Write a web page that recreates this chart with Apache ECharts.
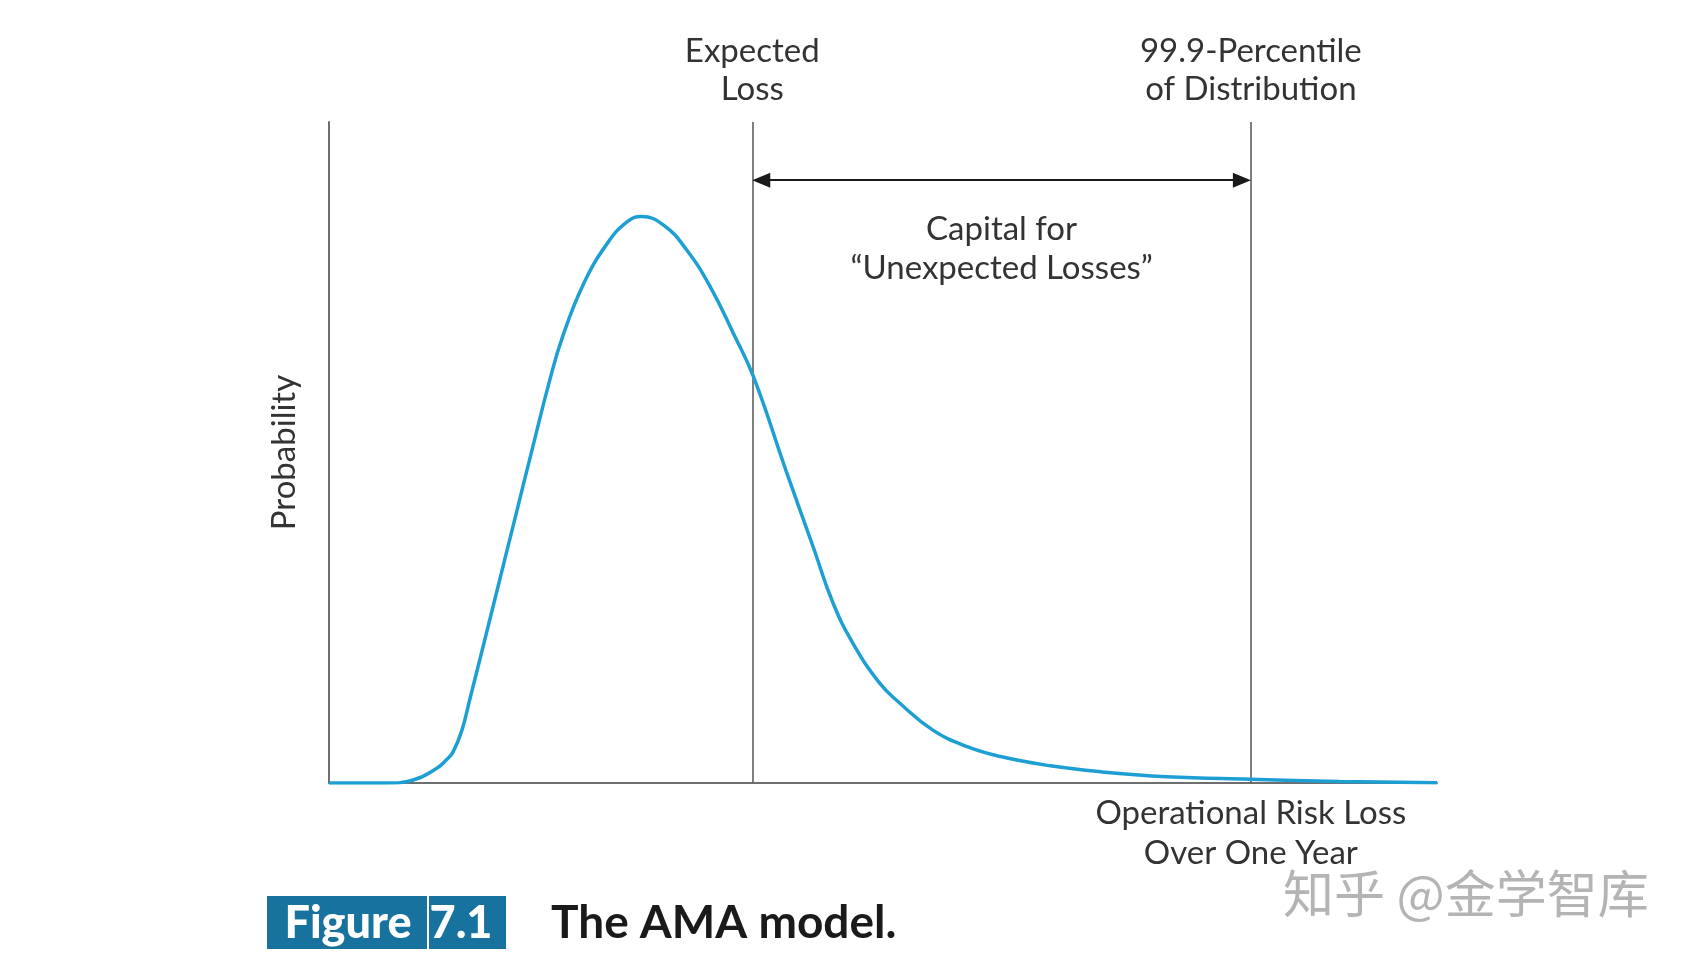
<!DOCTYPE html>
<html><head><meta charset="utf-8">
<script src="https://cdn.jsdelivr.net/npm/echarts@6/dist/echarts.min.js"></script>
<style>html,body{margin:0;padding:0;background:#fff}#c{width:1691px;height:963px}</style>
</head><body><div id="c"></div>
<script>
// Loss axis (0..100, arbitrary units) and probability density (0..100, arbitrary units)
const lossX = [0, 2.8, 5.2, 7.6, 9.7, 10.6, 11.2, 12.0, 12.7, 13.9, 15.4, 16.9, 18.4, 19.9, 21.1, 23.0, 25.1, 26.9, 28.2, 30.2, 32.3, 34.4, 36.5, 38.3, 41.3, 43.7, 45.5, 47.3, 49.7, 51.5, 54.5, 57.6, 60.6, 65.1, 69.6, 75.6, 83.1, 91.2, 100];
const probY = [0, 0, 0, 0.45, 2.2, 3.5, 4.7, 8.0, 12.6, 20.6, 30.7, 40.8, 50.9, 60.8, 67.6, 75.6, 81.6, 84.9, 85.7, 84.4, 80.6, 75.1, 68.0, 61.5, 47.0, 35.7, 27.2, 21.1, 15.1, 12.1, 8.0, 5.5, 4.0, 2.6, 1.7, 0.95, 0.56, 0.23, 0.05];
const expectedLoss = 38.2;
const percentile999 = 83.2;
const arrowLevel = 91.2;
const topLabels = ['Expected\nLoss', '99.9-Percentile\nof Distribution'];
const capitalLabel = 'Capital for\n\u201CUnexpected Losses\u201D';
const xAxisTitle = 'Operational Risk Loss\nOver One Year';
const yAxisTitle = 'Probability';
const figureTag = ['Figure', '7.1'];
const figureTitle = 'The AMA model.';
const watermark = '知乎 @金学智库';

const FONT = 'Lato, "Open Sans", sans-serif';
const ARROW_LEN = 18;
const chart = echarts.init(document.getElementById('c'), null, {renderer: 'canvas'});
const curve = lossX.map((x, i) => [x, probY[i]]);

const baseOption = {
  animation: false,
  backgroundColor: '#fff',
  grid: {left: 329, right: 254, top: 122, bottom: 180},
  xAxis: {type: 'value', min: 0, max: 100,
    axisLine: {show: true, lineStyle: {color: '#6e6e6e', width: 2}},
    axisTick: {show: false}, axisLabel: {show: false}, splitLine: {show: false}},
  yAxis: {type: 'value', min: 0, max: 100,
    name: yAxisTitle, nameLocation: 'middle', nameRotate: 90, nameGap: 28,
    nameTextStyle: {fontFamily: FONT, fontSize: 33, color: '#333'},
    axisLine: {show: true, onZero: false, lineStyle: {color: '#6e6e6e', width: 2}},
    axisTick: {show: false}, axisLabel: {show: false}, splitLine: {show: false}},
  series: [
    {id: 'refLines', type: 'line', data: [], z: 1,
      markLine: {silent: true, symbol: 'none', label: {show: false}, animation: false,
        lineStyle: {color: '#555', width: 1.5, type: 'solid'},
        data: [{xAxis: expectedLoss}, {xAxis: percentile999}]}},
    {id: 'curve', type: 'line', data: curve, smooth: 0.45, showSymbol: false, z: 5,
      lineStyle: {color: '#1E9FD3', width: 3.5}}
  ]
};
chart.setOption(baseOption);

// inset arrow ends so that the arrow tips touch the reference lines
const x0 = chart.convertFromPixel({gridIndex: 0}, [0, 0])[0];
const inset = chart.convertFromPixel({gridIndex: 0}, [ARROW_LEN / 2, 0])[0] - x0;
const px = v => chart.convertToPixel({gridIndex: 0}, [v, 0])[0];
const xEL = px(expectedLoss), xP = px(percentile999);
const txt = (x, y, text, extra) => ({type: 'text', x: x, y: y, silent: true,
  style: Object.assign({text: text, fontFamily: FONT, fontSize: 33, fill: '#333', align: 'center', verticalAlign: 'middle', lineHeight: 38}, extra || {})});

chart.setOption({
  series: [
    {id: 'arrow', type: 'line', data: [], z: 2,
      markLine: {silent: true, symbol: ['triangle', 'triangle'], symbolSize: [15, ARROW_LEN], label: {show: false}, animation: false,
        lineStyle: {color: '#1a1a1a', width: 2, type: 'solid'},
        itemStyle: {color: '#1a1a1a'},
        data: [[{coord: [expectedLoss + inset, arrowLevel]}, {coord: [percentile999 - inset, arrowLevel]}]]}}
  ],
  graphic: [
    txt(xEL, 70, topLabels[0]),
    txt(xP, 70, topLabels[1]),
    txt((xEL + xP) / 2, 249, capitalLabel, {lineHeight: 39}),
    txt(xP, 833, xAxisTitle, {lineHeight: 40}),
    {type: 'rect', shape: {x: 267, y: 896, width: 239, height: 53}, style: {fill: '#17729E'}, silent: true},
    {type: 'line', shape: {x1: 428, y1: 896, x2: 428, y2: 949}, style: {stroke: '#ffffff', lineWidth: 2}, silent: true},
    txt(348, 923, figureTag[0], {fontSize: 45, fontWeight: 900, fill: '#fff'}),
    txt(461, 923, figureTag[1], {fontSize: 45, fontWeight: 900, fill: '#fff'}),
    txt(551, 923, figureTitle, {fontSize: 46, fontWeight: 'bold', fill: '#1a1a1a', align: 'left'}),
    txt(1283, 894, watermark, {fontFamily: '"Noto Sans CJK SC", sans-serif', fontSize: 51, fill: '#b4b4b4', align: 'left'})
  ]
});
</script></body></html>
